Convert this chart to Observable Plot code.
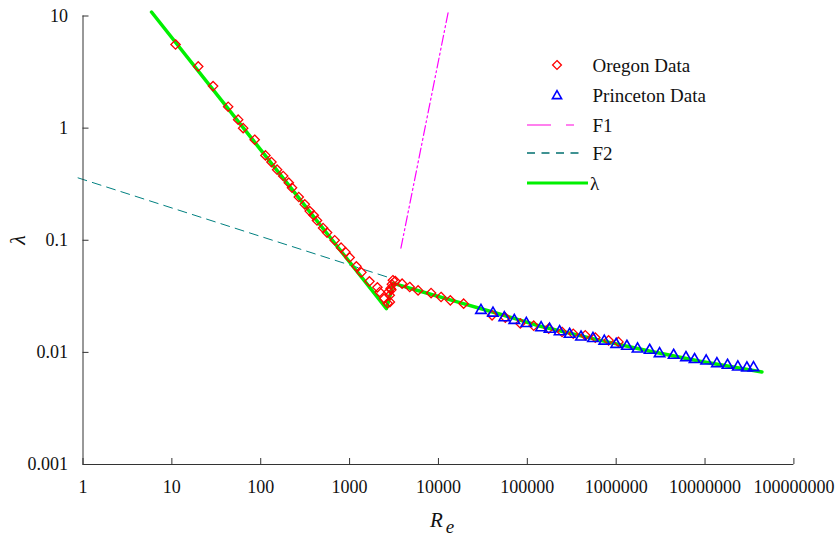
<!DOCTYPE html>
<html><head><meta charset="utf-8">
<script src="https://cdn.jsdelivr.net/npm/d3@7"></script>
<script src="https://cdn.jsdelivr.net/npm/@observablehq/plot@0.6"></script>
<style>
body{margin:0;background:#fff;}
#wrap{position:relative;width:835px;height:537px;font-family:"Liberation Serif","Times New Roman",serif;}
</style></head><body><div id="wrap"></div>
<script>
const xTicks = [1, 10, 100, 1000, 1e4, 1e5, 1e6, 1e7, 1e8];
const xTickLabels = ["1","10","100","1000","10000","100000","1000000","10000000","100000000"];
const yTicks = [0.001, 0.01, 0.1, 1, 10];
const yTickLabels = ["0.001","0.01","0.1","1","10"];

// Oregon data (red diamonds)
const oregonRe = [11.0, 19.8, 29.1, 43, 55.7, 63.4, 85.5, 113, 132, 153, 179, 207, 225, 268, 313, 356, 395, 430, 503, 558, 680, 802, 897, 1002, 1192, 1358, 1672, 2056, 2180, 2460, 2840, 2680, 2750, 2830, 2900, 2950, 2990, 3070, 3270, 3900, 4750, 5900, 8260, 10700, 13600, 19200, 40100, 56600, 83400, 118000, 174000, 246000, 329000, 449000, 582000, 821000, 1060000];
const oregonLambda = [5.57, 3.55, 2.37, 1.55, 1.19, 1.0, 0.788, 0.571, 0.498, 0.426, 0.374, 0.326, 0.294, 0.243, 0.209, 0.182, 0.1667, 0.150, 0.1285, 0.117, 0.100, 0.0859, 0.0785, 0.0702, 0.0585, 0.0517, 0.043, 0.038, 0.0345, 0.0302, 0.0281, 0.0274, 0.0347, 0.0323, 0.0372, 0.0361, 0.0405, 0.044, 0.0432, 0.041, 0.0383, 0.0357, 0.0338, 0.0312, 0.0291, 0.0272, 0.0214, 0.0204, 0.0181, 0.0173, 0.0163, 0.0152, 0.01465, 0.0142, 0.01355, 0.0128, 0.0124];

// Princeton data (blue triangles)
const princetonRe = [30100, 41100, 55100, 71400, 97500, 143000, 178000, 231000, 299000, 402000, 548000, 735000, 1000000, 1320000, 1740000, 2380000, 3080000, 4430000, 6100000, 7620000, 10300000, 13600000, 17900000, 23400000, 29600000, 35100000];
const princetonLambda = [0.0237, 0.0224, 0.0204, 0.0193, 0.0181, 0.0166, 0.0161, 0.0153, 0.0145, 0.0137, 0.0133, 0.0126, 0.0118, 0.01133, 0.01072, 0.01044, 0.00975, 0.00942, 0.00899, 0.00863, 0.00838, 0.00794, 0.00767, 0.00741, 0.00726, 0.00731];

// λ curve (green)
const lambdaRe = [5.9, 2600, 3110, 6250, 13600, 49700, 140000, 662000, 2420000, 8830000, 43700000];
const lambdaVal = [10.85, 0.0246, 0.0413, 0.0351, 0.0294, 0.0219, 0.0171, 0.0128, 0.01023, 0.00834, 0.00668];

// F1 (magenta dash-dot) and F2 (teal dashed)
const f1Re = [3780, 12900];
const f1Lambda = [0.0849, 10.9];
const f2Re = [0.88, 3013];
const f2Lambda = [0.36, 0.0455];

const zip = (a, b) => a.map((v, i) => ({re: v, lam: b[i]}));
const oregon = zip(oregonRe, oregonLambda);
const princeton = zip(princetonRe, princetonLambda);
const lam = zip(lambdaRe, lambdaVal);
const f1 = zip(f1Re, f1Lambda);
const f2 = zip(f2Re, f2Lambda);

const serif = "'Liberation Serif', 'Times New Roman', serif";
const axisColor = "#333";
const chart = Plot.plot({
  width: 835, height: 537,
  marginLeft: 82.5, marginRight: 41.6, marginTop: 15.5, marginBottom: 73,
  style: {fontFamily: serif, fontSize: "18px", background: "white", color: "#222", overflow: "visible"},
  x: {type: "log", domain: [1, 1e8], axis: null, label: null},
  y: {type: "log", domain: [0.001, 10], axis: null, label: null},
  marks: [
    Plot.line(f2, {x: "re", y: "lam", stroke: "#008080", strokeWidth: 1, strokeDasharray: "9,6", clip: false}),
    Plot.line(f1, {x: "re", y: "lam", stroke: "#ff00ff", strokeWidth: 1.2, strokeDasharray: "10,3,2,3,2,3"}),
    Plot.line(lam, {x: "re", y: "lam", stroke: "#00f000", strokeWidth: 3.5}),
    Plot.dot(oregon, {x: "re", y: "lam", symbol: "diamond2", r: 4.2, stroke: "#ff0000", strokeWidth: 1.3, fill: "none"}),
    Plot.dot(princeton, {x: "re", y: "lam", symbol: "triangle2", r: 5, stroke: "#0000ff", strokeWidth: 1.6, fill: "none"}),
    Plot.ruleX([1], {stroke: axisColor}),
    Plot.ruleY([0.001], {stroke: axisColor}),
    Plot.axisX(xTicks, {anchor: "bottom", tickSize: -6, tickFormat: () => "", label: null, stroke: axisColor}),
    Plot.axisX(xTicks, {anchor: "bottom", tickSize: 0, tickPadding: 15.5, tickFormat: d => xTickLabels[xTicks.indexOf(d)], label: null, fill: "#111", fontFamily: serif}),
    Plot.axisY(yTicks, {anchor: "left", tickSize: -6, tickFormat: () => "", label: null, stroke: axisColor}),
    Plot.axisY(yTicks, {anchor: "left", tickSize: 0, tickPadding: 15, tickFormat: d => yTickLabels[yTicks.indexOf(d)], label: null, fill: "#111", fontFamily: serif})
  ]
});
document.getElementById("wrap").appendChild(chart);

const svg = d3.select(chart);
// x-axis title R_e
const xt = svg.append("text")
  .attr("x", 430).attr("y", 527)
  .attr("text-anchor", "start")
  .attr("font-family", serif)
  .attr("font-style", "italic").attr("font-size", 21).attr("fill", "#111");
xt.append("tspan").text("R");
xt.append("tspan").attr("dx", 3).attr("dy", 6).attr("font-size", 19).text("e");
// y-axis title λ
svg.append("text")
  .attr("transform", "translate(17,240) rotate(-90)")
  .attr("text-anchor", "middle").attr("dominant-baseline", "central")
  .attr("font-family", serif)
  .attr("font-style", "italic").attr("font-size", 22).attr("fill", "#111")
  .text("λ");

// Legend
const lg = svg.append("g").attr("font-family", serif).attr("font-size", 19).attr("fill", "#111").attr("text-anchor", "start");
lg.append("path").attr("d", d3.symbol(d3.symbolDiamond2, 50)()).attr("transform", "translate(557,65)")
  .attr("fill", "none").attr("stroke", "#ff0000").attr("stroke-width", 1.3);
lg.append("path").attr("d", d3.symbol(d3.symbolTriangle2, 60)()).attr("transform", "translate(557,96)")
  .attr("fill", "none").attr("stroke", "#0000ff").attr("stroke-width", 1.6);
lg.append("line").attr("x1", 527).attr("x2", 575).attr("y1", 125).attr("y2", 125)
  .attr("stroke", "#ff80ee").attr("stroke-width", 2).attr("stroke-dasharray", "24,15,8,100");
lg.append("line").attr("x1", 527).attr("x2", 582).attr("y1", 153).attr("y2", 153)
  .attr("stroke", "#006f6f").attr("stroke-width", 1.3).attr("stroke-dasharray", "8,6.5");
lg.append("line").attr("x1", 527).attr("x2", 588).attr("y1", 183).attr("y2", 183)
  .attr("stroke", "#00f000").attr("stroke-width", 3);
const legendLabels = ["Oregon Data", "Princeton Data", "F1", "F2", "λ"];
const legendY = [65, 95, 125, 153, 183];
legendLabels.forEach((t, i) => {
  lg.append("text").attr("x", i === 4 ? 590 : 592.5).attr("y", legendY[i]).attr("dominant-baseline", "central").text(t);
});
</script>
</body></html>
